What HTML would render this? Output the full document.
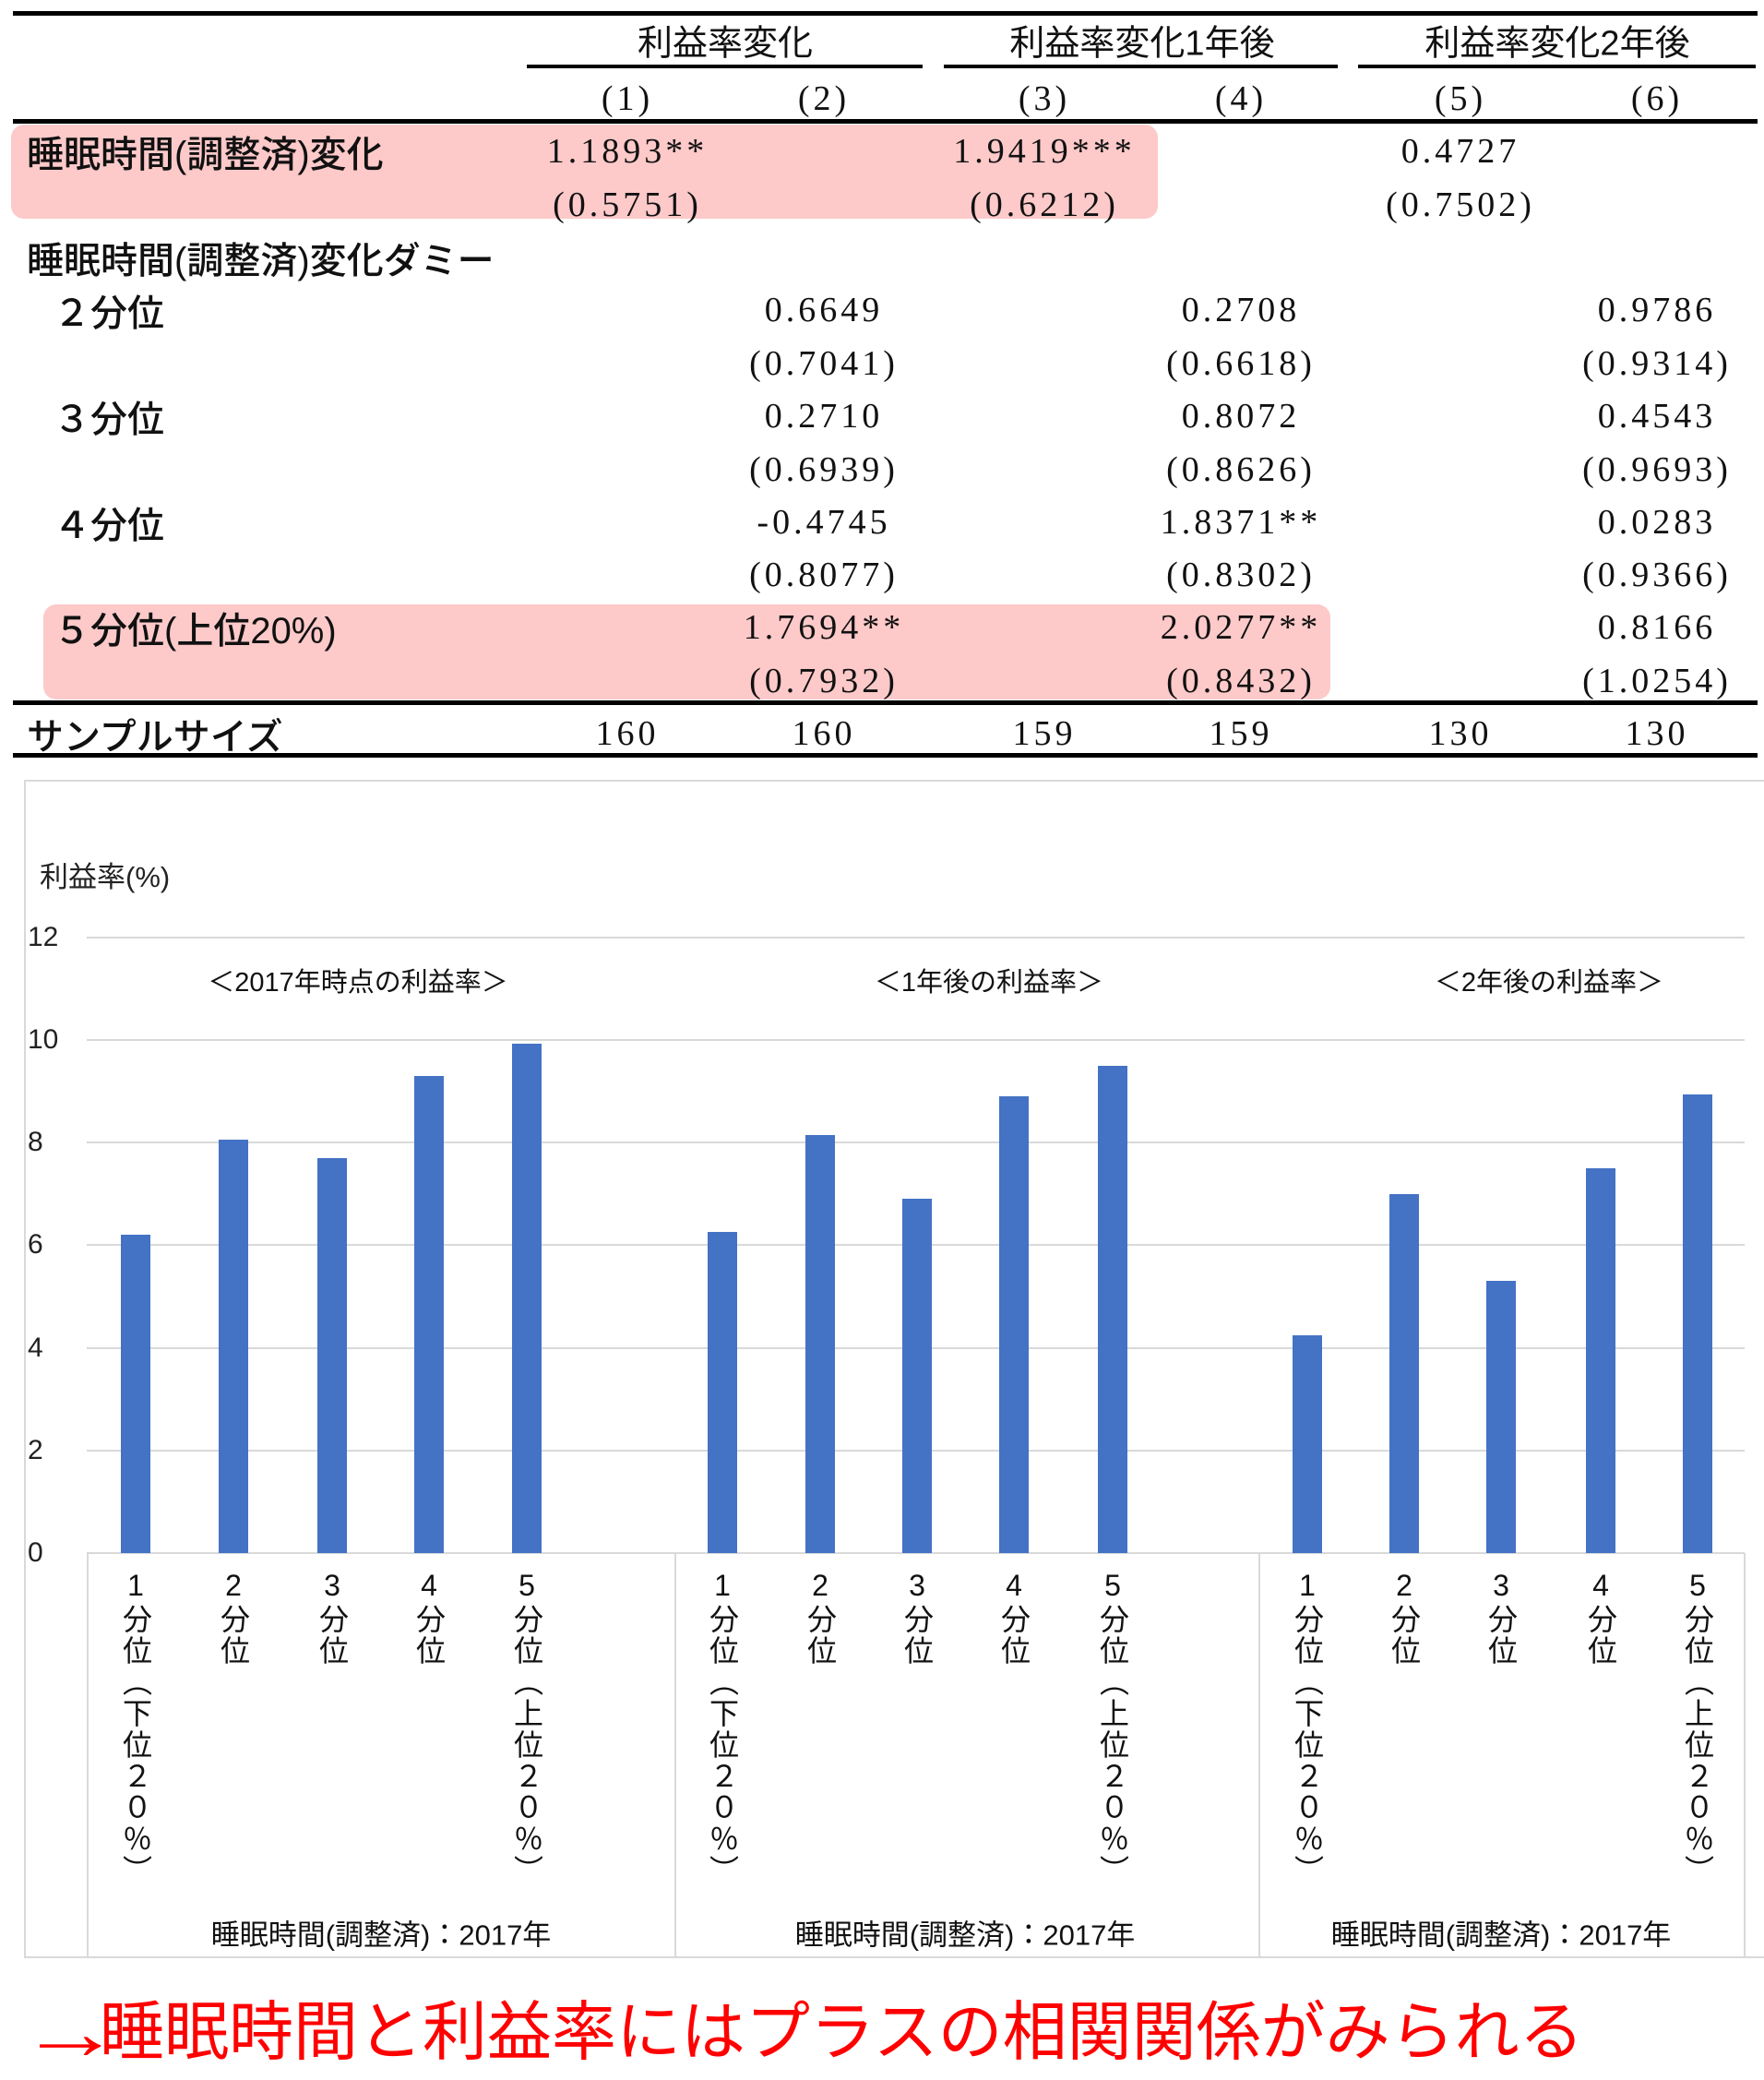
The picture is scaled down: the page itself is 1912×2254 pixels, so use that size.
<!DOCTYPE html>
<html><head><meta charset="utf-8"><style>
body{margin:0;width:1912px;height:2254px;background:#fff;position:relative;overflow:hidden;font-family:"Liberation Sans","Noto Sans CJK JP",sans-serif;}
.a{position:absolute;white-space:nowrap}
.ln{position:absolute;background:#000}
.n{position:absolute;font-family:"Liberation Serif","Noto Serif CJK SC",serif;font-size:38px;letter-spacing:4px;transform:translate(-50%,-50%);white-space:nowrap;color:#111}
.h{position:absolute;font-family:"Liberation Sans","Noto Sans CJK JP",sans-serif;font-size:38px;transform:translate(-50%,-50%);white-space:nowrap;color:#111}
.lb{position:absolute;font-size:40px;transform:translateY(-50%);white-space:nowrap;color:#111;font-weight:500}
.pk{position:absolute;background:#fdc9c9;border-radius:14px}
.bar{position:absolute;background:#4472c4;width:32px}
.g{position:absolute;left:94px;width:1797px;height:2px;background:#d9d9d9}
.yt{position:absolute;left:30px;font-size:30px;transform:translateY(-50%);color:#222}
.cat{position:absolute;top:1700px;writing-mode:vertical-rl;text-orientation:upright;font-size:32px;line-height:32px;transform:translateX(-50%);color:#111;letter-spacing:2px}
.vl{position:absolute;top:1683px;height:437px;width:2px;background:#d9d9d9}
.pt{position:absolute;font-size:29px;transform:translate(-50%,-50%);white-space:nowrap;color:#111}
</style></head><body>
<div class="pk" style="left:12px;top:135px;width:1243px;height:102px"></div>
<div class="pk" style="left:47px;top:655px;width:1395px;height:103px"></div>
<div class="ln" style="left:14px;top:12px;width:1891px;height:5px"></div>
<div class="ln" style="left:571px;top:70px;width:429px;height:4px"></div>
<div class="ln" style="left:1023px;top:70px;width:427px;height:4px"></div>
<div class="ln" style="left:1472px;top:70px;width:431px;height:4px"></div>
<div class="ln" style="left:14px;top:129px;width:1891px;height:5px"></div>
<div class="ln" style="left:14px;top:759px;width:1891px;height:5px"></div>
<div class="ln" style="left:14px;top:816px;width:1891px;height:5px"></div>
<div class="h" style="left:786px;top:43px">利益率変化</div>
<div class="h" style="left:1238px;top:43px">利益率変化1年後</div>
<div class="h" style="left:1688px;top:43px">利益率変化2年後</div>
<div class="n" style="left:680px;top:107px">(1)</div><div class="n" style="left:893px;top:107px">(2)</div><div class="n" style="left:1132px;top:107px">(3)</div><div class="n" style="left:1345px;top:107px">(4)</div><div class="n" style="left:1583px;top:107px">(5)</div><div class="n" style="left:1796px;top:107px">(6)</div>
<div class="lb" style="left:29px;top:164px">睡眠時間(調整済)変化</div>
<div class="lb" style="left:29px;top:279px">睡眠時間(調整済)変化ダミー</div>
<div class="lb" style="left:58px;top:336px">２分位</div>
<div class="lb" style="left:58px;top:451px">３分位</div>
<div class="lb" style="left:58px;top:566px">４分位</div>
<div class="lb" style="left:58px;top:680px">５分位(上位20%)</div>
<div class="lb" style="left:29px;top:795px">サンプルサイズ</div>
<div class="n" style="left:680px;top:164px">1.1893**</div><div class="n" style="left:1132px;top:164px">1.9419***</div><div class="n" style="left:1583px;top:164px">0.4727</div>
<div class="n" style="left:680px;top:222px">(0.5751)</div><div class="n" style="left:1132px;top:222px">(0.6212)</div><div class="n" style="left:1583px;top:222px">(0.7502)</div>
<div class="n" style="left:893px;top:336px">0.6649</div><div class="n" style="left:1345px;top:336px">0.2708</div><div class="n" style="left:1796px;top:336px">0.9786</div>
<div class="n" style="left:893px;top:394px">(0.7041)</div><div class="n" style="left:1345px;top:394px">(0.6618)</div><div class="n" style="left:1796px;top:394px">(0.9314)</div>
<div class="n" style="left:893px;top:451px">0.2710</div><div class="n" style="left:1345px;top:451px">0.8072</div><div class="n" style="left:1796px;top:451px">0.4543</div>
<div class="n" style="left:893px;top:509px">(0.6939)</div><div class="n" style="left:1345px;top:509px">(0.8626)</div><div class="n" style="left:1796px;top:509px">(0.9693)</div>
<div class="n" style="left:893px;top:566px">-0.4745</div><div class="n" style="left:1345px;top:566px">1.8371**</div><div class="n" style="left:1796px;top:566px">0.0283</div>
<div class="n" style="left:893px;top:623px">(0.8077)</div><div class="n" style="left:1345px;top:623px">(0.8302)</div><div class="n" style="left:1796px;top:623px">(0.9366)</div>
<div class="n" style="left:893px;top:680px">1.7694**</div><div class="n" style="left:1345px;top:680px">2.0277**</div><div class="n" style="left:1796px;top:680px">0.8166</div>
<div class="n" style="left:893px;top:738px">(0.7932)</div><div class="n" style="left:1345px;top:738px">(0.8432)</div><div class="n" style="left:1796px;top:738px">(1.0254)</div>
<div class="n" style="left:680px;top:795px">160</div><div class="n" style="left:893px;top:795px">160</div><div class="n" style="left:1132px;top:795px">159</div><div class="n" style="left:1345px;top:795px">159</div><div class="n" style="left:1583px;top:795px">130</div><div class="n" style="left:1796px;top:795px">130</div>

<div style="position:absolute;left:26px;top:845px;width:1890px;height:1273px;border:2px solid #d9d9d9"></div>
<div class="a" style="left:43px;top:925px;font-size:31px;color:#222">利益率(%)</div>
<div class="g" style="top:1015px"></div><div class="g" style="top:1126px"></div><div class="g" style="top:1237px"></div><div class="g" style="top:1348px"></div><div class="g" style="top:1460px"></div><div class="g" style="top:1571px"></div><div class="g" style="top:1682px"></div>
<div class="yt" style="top:1016px">12</div><div class="yt" style="top:1127px">10</div><div class="yt" style="top:1238px">8</div><div class="yt" style="top:1349px">6</div><div class="yt" style="top:1461px">4</div><div class="yt" style="top:1572px">2</div><div class="yt" style="top:1683px">0</div>
<div class="vl" style="left:94px"></div><div class="vl" style="left:731px"></div><div class="vl" style="left:1364px"></div><div class="vl" style="left:1890px"></div>
<div class="pt" style="left:388px;top:1062px">＜2017年時点の利益率＞</div>
<div class="pt" style="left:1072px;top:1062px">＜1年後の利益率＞</div>
<div class="pt" style="left:1679px;top:1062px">＜2年後の利益率＞</div>
<div class="bar" style="left:131px;top:1338px;height:345px"></div>
<div class="bar" style="left:237px;top:1235px;height:448px"></div>
<div class="bar" style="left:344px;top:1255px;height:428px"></div>
<div class="bar" style="left:449px;top:1166px;height:517px"></div>
<div class="bar" style="left:555px;top:1131px;height:552px"></div>
<div class="bar" style="left:767px;top:1335px;height:348px"></div>
<div class="bar" style="left:873px;top:1230px;height:453px"></div>
<div class="bar" style="left:978px;top:1299px;height:384px"></div>
<div class="bar" style="left:1083px;top:1188px;height:495px"></div>
<div class="bar" style="left:1190px;top:1155px;height:528px"></div>
<div class="bar" style="left:1401px;top:1447px;height:236px"></div>
<div class="bar" style="left:1506px;top:1294px;height:389px"></div>
<div class="bar" style="left:1611px;top:1388px;height:295px"></div>
<div class="bar" style="left:1719px;top:1266px;height:417px"></div>
<div class="bar" style="left:1824px;top:1186px;height:497px"></div>
<div class="cat" style="left:147px">1分位（下位２０％）</div><div class="cat" style="left:253px">2分位</div><div class="cat" style="left:360px">3分位</div><div class="cat" style="left:465px">4分位</div><div class="cat" style="left:571px">5分位（上位２０％）</div>
<div class="cat" style="left:783px">1分位（下位２０％）</div><div class="cat" style="left:889px">2分位</div><div class="cat" style="left:994px">3分位</div><div class="cat" style="left:1099px">4分位</div><div class="cat" style="left:1206px">5分位（上位２０％）</div>
<div class="cat" style="left:1417px">1分位（下位２０％）</div><div class="cat" style="left:1522px">2分位</div><div class="cat" style="left:1627px">3分位</div><div class="cat" style="left:1735px">4分位</div><div class="cat" style="left:1840px">5分位（上位２０％）</div>
<div class="pt" style="left:413px;top:2094px;font-size:31px">睡眠時間(調整済)：2017年</div>
<div class="pt" style="left:1046px;top:2094px;font-size:31px">睡眠時間(調整済)：2017年</div>
<div class="pt" style="left:1627px;top:2094px;font-size:31px">睡眠時間(調整済)：2017年</div>
<div class="a" style="left:20px;top:2160px;font-size:70px;color:#ff0000;line-height:84px"><span style="display:inline-block;transform:scale(1.6,1.2);transform-origin:left center;width:88px">→</span>睡眠時間と利益率にはプラスの相関関係がみられる</div>
</body></html>
